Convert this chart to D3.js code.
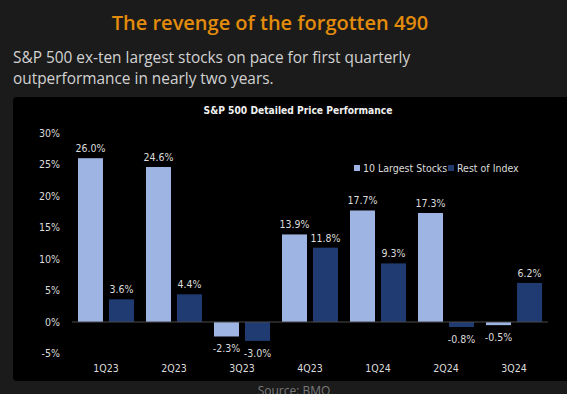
<!DOCTYPE html>
<meta charset="utf-8">
<script src="https://d3js.org/d3.v7.min.js"></script>
<style>
  body { margin: 0; background: #1b1b1b; }
  svg { display: block; }
</style>
<div id="chart"></div>
<script>
// quarters and the two series (percent price change)
const quarters = ["1Q23", "2Q23", "3Q23", "4Q23", "1Q24", "2Q24", "3Q24"];
const largest10 = [26.0, 24.6, -2.3, 13.9, 17.7, 17.3, -0.5];
const restOfIndex = [3.6, 4.4, -3.0, 11.8, 9.3, -0.8, 6.2];
const seriesNames = ["10 Largest Stocks", "Rest of Index"];
const yTicks = [-5, 0, 5, 10, 15, 20, 25, 30];

const W = 567, H = 394;
const lightBar = "#9eb4e2", darkBar = "#1f3b71";
const axisFont = "'DejaVu Sans Condensed', 'Liberation Sans Narrow', sans-serif";
const labelSize = 10.5;

const svg = d3.select("#chart").append("svg")
    .attr("width", W).attr("height", H);

// page background + headline
svg.append("rect").attr("width", W).attr("height", H).attr("fill", "#1b1b1b");

svg.append("text")
    .attr("x", 270).attr("y", 30)
    .attr("text-anchor", "middle")
    .attr("font-family", "'Open Sans', sans-serif")
    .attr("font-weight", 600)
    .attr("font-size", 20)
    .attr("fill", "#e38c0b")
    .text("The revenge of the forgotten 490");

const sub = svg.append("text")
    .attr("font-family", "'Open Sans', sans-serif")
    .attr("font-size", 15.4)
    .attr("fill", "#d2d2d2");
sub.append("tspan").attr("x", 13).attr("y", 63)
    .text("S&P 500 ex-ten largest stocks on pace for first quarterly");
sub.append("tspan").attr("x", 13).attr("y", 84)
    .text("outperformance in nearly two years.");

// black chart panel
svg.append("rect")
    .attr("x", 13).attr("y", 97)
    .attr("width", W - 13 + 6).attr("height", 284)
    .attr("rx", 4)
    .attr("fill", "#000");

svg.append("text")
    .attr("x", 298).attr("y", 114)
    .attr("text-anchor", "middle")
    .attr("font-family", axisFont)
    .attr("font-weight", "bold")
    .attr("font-size", 10.2)
    .attr("fill", "#f0f0f0")
    .text("S&P 500 Detailed Price Performance");

// scales
const x0 = d3.scaleBand().domain(quarters).range([72, 548])
    .paddingInner(0.1765).paddingOuter(0.088);
const x1 = d3.scaleBand().domain(seriesNames).range([0, x0.bandwidth()])
    .paddingInner(0.194);
const y = d3.scaleLinear().domain([-5, 30]).range([353.5, 133]);
const color = d3.scaleOrdinal().domain(seriesNames).range([lightBar, darkBar]);

// y axis labels
const yAxis = svg.append("g")
    .attr("transform", "translate(63,0)")
    .call(d3.axisLeft(y).tickValues(yTicks).tickSize(0).tickFormat(d => d + "%"));
yAxis.select(".domain").remove();
yAxis.selectAll("text")
    .attr("font-family", axisFont)
    .attr("font-size", labelSize)
    .attr("fill", "#dcdcdc");

// x axis labels
const xAxis = svg.append("g")
    .attr("transform", "translate(0,362)")
    .call(d3.axisBottom(x0).tickSize(0));
xAxis.select(".domain").remove();
xAxis.selectAll("text")
    .attr("font-family", axisFont)
    .attr("font-size", labelSize)
    .attr("fill", "#dcdcdc");

// rows for grouped bars
const rows = quarters.map((q, i) => ({
    quarter: q,
    values: [
        { key: seriesNames[0], value: largest10[i] },
        { key: seriesNames[1], value: restOfIndex[i] }
    ]
}));

const groups = svg.append("g").selectAll("g")
    .data(rows)
    .join("g")
    .attr("transform", d => `translate(${x0(d.quarter)},0)`);

groups.selectAll("rect")
    .data(d => d.values)
    .join("rect")
    .attr("x", d => x1(d.key))
    .attr("y", d => y(Math.max(0, d.value)))
    .attr("width", x1.bandwidth())
    .attr("height", d => Math.abs(y(d.value) - y(0)))
    .attr("fill", d => color(d.key));

groups.selectAll("text")
    .data(d => d.values)
    .join("text")
    .attr("x", d => x1(d.key) + x1.bandwidth() / 2)
    .attr("y", d => d.value >= 0 ? y(d.value) - 6 : y(d.value) + 16)
    .attr("text-anchor", "middle")
    .attr("font-family", axisFont)
    .attr("font-size", labelSize)
    .attr("fill", "#dcdcdc")
    .text(d => d.value.toFixed(1) + "%");

// zero line
svg.append("line")
    .attr("x1", 72).attr("x2", 548)
    .attr("y1", y(0)).attr("y2", y(0))
    .attr("stroke", "#4a4a4a")
    .attr("stroke-width", 1);

// legend
const legend = svg.append("g")
    .attr("font-family", axisFont)
    .attr("font-size", labelSize)
    .attr("fill", "#dcdcdc");
const legendX = [354, 448];
seriesNames.forEach((name, i) => {
    legend.append("rect")
        .attr("x", legendX[i]).attr("y", 165)
        .attr("width", 6).attr("height", 6)
        .attr("fill", color(name));
    legend.append("text")
        .attr("x", legendX[i] + 9).attr("y", 172)
        .text(name);
});

// source note (cut by the bottom edge, as in the original)
svg.append("text")
    .attr("x", 294).attr("y", 395)
    .attr("text-anchor", "middle")
    .attr("font-family", "'Open Sans', sans-serif")
    .attr("font-size", 12)
    .attr("fill", "#7a7a7a")
    .text("Source: BMO");
</script>
